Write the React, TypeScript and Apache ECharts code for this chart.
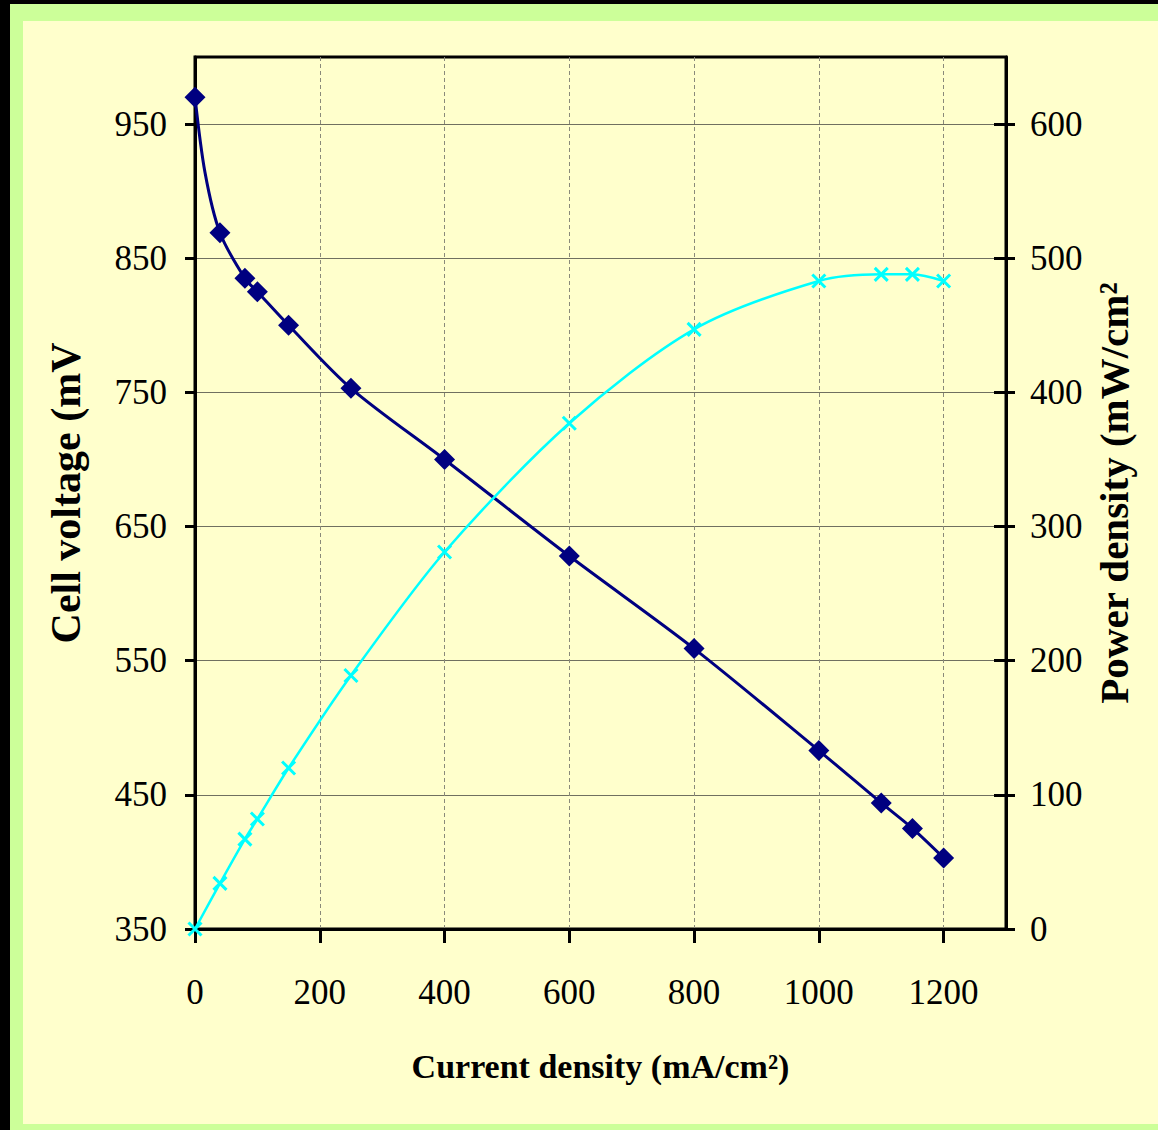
import React, { useEffect, useRef } from "react";
import * as echarts from "echarts";

// Current density (mA/cm²) at measured points
const current = [0, 40, 80, 100, 150, 250, 400, 600, 800, 1000, 1100, 1150, 1200];
// Cell voltage (mV) at measured points
const voltage = [970, 869, 835, 825, 800, 753, 700, 628, 559, 483, 444, 425, 403];
// Power density (mW/cm²) at measured points
const power = [0, 34, 67, 82, 120, 189, 281, 377, 447, 483, 488, 488, 483];
// Voltage curve as traced (includes one unmarked bend point)
const curveCurrent = [0, 16, 40, 80, 100, 150, 250, 400, 600, 800, 1000, 1100, 1150, 1200];
const curveVoltage = [970, 914, 869, 835, 825, 800, 753, 700, 628, 559, 483, 444, 425, 403];

const xTicks = [0, 200, 400, 600, 800, 1000, 1200];
const leftTicks = [350, 450, 550, 650, 750, 850, 950];
const rightTicks = [0, 100, 200, 300, 400, 500, 600];

const FONT = "Liberation Serif";
const plain = (v: number) => String(v);

export default function App() {
  const ref = useRef<HTMLDivElement>(null);
  useEffect(() => {
    document.body.style.margin = "0";
    const chart = echarts.init(ref.current!, null, { renderer: "svg" });
    const crossPath = "path://M0,0L10,10M10,0L0,10";
    chart.setOption({
      animation: false,
      backgroundColor: "transparent",
      grid: {
        left: 195,
        right: 152,
        top: 57,
        bottom: 201,
        show: true,
        borderColor: "#000",
        borderWidth: 3,
        backgroundColor: "transparent",
      },
      xAxis: {
        type: "value",
        min: 0,
        max: 1300,
        interval: 200,
        name: "Current density (mA/cm²)",
        nameLocation: "middle",
        nameGap: 120,
        nameTextStyle: { fontFamily: FONT, fontWeight: "bold", fontSize: 34, color: "#000" },
        axisLine: { show: true, lineStyle: { color: "#000", width: 3 } },
        axisTick: { show: true, length: 14, lineStyle: { color: "#000", width: 3 }, customValues: xTicks },
        axisLabel: { fontFamily: FONT, fontSize: 35, color: "#000", margin: 46, customValues: xTicks, formatter: plain },
        splitLine: { show: true, lineStyle: { color: "#8a8a7a", width: 1, type: [4, 3] } },
      },
      yAxis: [
        {
          type: "value",
          min: 350,
          max: 1000,
          interval: 100,
          position: "left",
          name: "Cell voltage (mV",
          nameLocation: "middle",
          nameRotate: 90,
          nameGap: 108,
          nameTextStyle: { fontFamily: FONT, fontWeight: "bold", fontSize: 42, color: "#000" },
          axisLine: { show: true, lineStyle: { color: "#000", width: 3 } },
          axisTick: { show: true, length: 10, lineStyle: { color: "#000", width: 3 }, customValues: leftTicks },
          axisLabel: { fontFamily: FONT, fontSize: 35, color: "#000", margin: 28, customValues: leftTicks, formatter: plain },
          splitLine: { show: true, lineStyle: { color: "#707060", width: 1 } },
        },
        {
          type: "value",
          min: 0,
          max: 650,
          interval: 100,
          position: "right",
          name: "Power density (mW/cm²",
          nameLocation: "middle",
          nameRotate: 90,
          nameGap: 86,
          nameTextStyle: { fontFamily: FONT, fontWeight: "bold", fontSize: 41, color: "#000" },
          axisLine: { show: true, lineStyle: { color: "#000", width: 3 } },
          axisTick: { show: true, length: 9, lineStyle: { color: "#000", width: 3 }, customValues: rightTicks },
          axisLabel: { fontFamily: FONT, fontSize: 35, color: "#000", margin: 24, customValues: rightTicks, formatter: plain },
          splitLine: { show: false },
        },
        {
          type: "value",
          min: 0,
          max: 650,
          interval: 100,
          position: "right",
          axisLine: { show: false },
          axisTick: { show: true, inside: true, length: 12, lineStyle: { color: "#000", width: 3 }, customValues: rightTicks },
          axisLabel: { show: false },
          splitLine: { show: false },
        },
      ],
      series: [
        {
          type: "line",
          yAxisIndex: 0,
          data: curveCurrent.map((c, i) => [c, curveVoltage[i]]),
          smooth: 0.3,
          showSymbol: false,
          lineStyle: { color: "#000080", width: 3 },
          z: 3,
        },
        {
          type: "scatter",
          yAxisIndex: 0,
          data: current.map((c, i) => [c, voltage[i]]),
          symbol: "diamond",
          symbolSize: 21,
          itemStyle: { color: "#000080", opacity: 1 },
          z: 4,
        },
        {
          type: "line",
          yAxisIndex: 1,
          data: current.map((c, i) => [c, power[i]]),
          smooth: 0.3,
          symbol: crossPath,
          symbolSize: 13,
          showAllSymbol: true,
          lineStyle: { color: "#00FFFF", width: 2.5 },
          itemStyle: { color: "#00FFFF", borderColor: "#00FFFF", borderWidth: 3 },
          z: 3,
        },
      ],
    });
    return () => chart.dispose();
  }, []);

  return (
    <div style={{ position: "relative", width: 1158, height: 1130, background: "#000", overflow: "hidden" }}>
      <div style={{ position: "absolute", left: 10, top: 4, width: 1148, height: 1126, background: "#CCFF99" }} />
      <div style={{ position: "absolute", left: 23, top: 21, width: 1135, height: 1103, background: "#FFFFCC" }} />
      <div ref={ref} style={{ position: "absolute", left: 0, top: 0, width: 1158, height: 1130 }} />
    </div>
  );
}
